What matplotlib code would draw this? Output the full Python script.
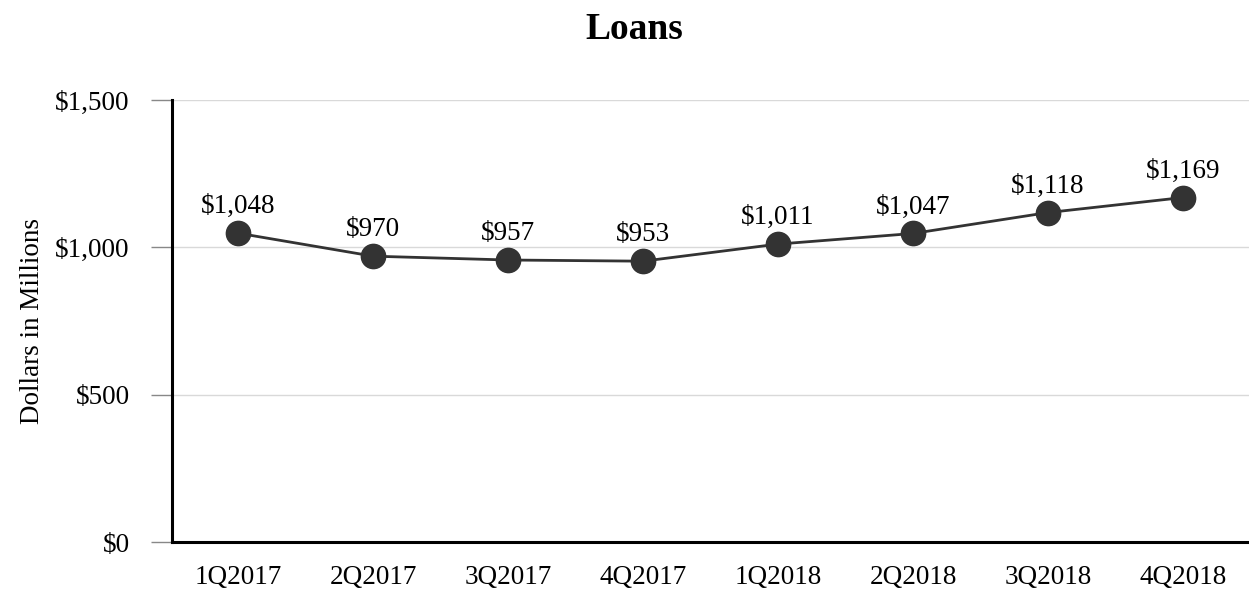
import matplotlib
matplotlib.use("Agg")
import matplotlib.pyplot as plt
from matplotlib.ticker import FuncFormatter

quarters = ["1Q2017", "2Q2017", "3Q2017", "4Q2017",
            "1Q2018", "2Q2018", "3Q2018", "4Q2018"]
loans = [1048, 970, 957, 953, 1011, 1047, 1118, 1169]
yticks = [0, 500, 1000, 1500]

plt.rcParams["font.family"] = ["Liberation Serif", "DejaVu Serif"]

fig = plt.figure(figsize=(12.49, 5.89), dpi=100)
ax = fig.add_axes([172 / 1249, 1 - 542 / 589, 1 - 172 / 1249, (542 - 100) / 589])

x = list(range(len(quarters)))
ax.plot(x, loans, color="#333333", lw=2, marker="o", ms=17.5,
        markerfacecolor="#333333", markeredgecolor="#333333", zorder=3)
for xi, v in zip(x, loans):
    ax.annotate(f"${v:,}", (xi, v), xytext=(0, 10), textcoords="offset points",
                ha="center", va="bottom", fontsize=19.5, color="black")

ax.set_xlim(-0.49, 7.49)
ax.set_ylim(0, 1500)
ax.set_yticks(yticks)
ax.yaxis.set_major_formatter(FuncFormatter(lambda v, p: f"${v:,.0f}"))
ax.set_xticks(x)
ax.set_xticklabels(quarters)
ax.tick_params(axis="x", length=0, pad=16.5, labelsize=19.5)
ax.tick_params(axis="y", length=15, width=1, color="#888888", pad=15.5, labelsize=19.5)
ax.grid(axis="y", color="#d9d9d9", lw=1)
ax.set_axisbelow(True)

for s in ["top", "right"]:
    ax.spines[s].set_visible(False)
for s in ["left", "bottom"]:
    ax.spines[s].set_linewidth(2.2)
    ax.spines[s].set_color("black")

ax.set_ylabel("Dollars in Millions", fontsize=19.5, labelpad=7)
fig.suptitle("Loans", fontsize=27, fontweight="bold", x=0.508, y=0.98)

fig.savefig("out.png", dpi=100)
